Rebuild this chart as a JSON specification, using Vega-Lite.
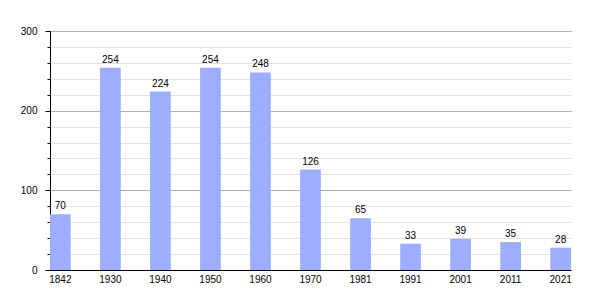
{
  "$schema": "https://vega.github.io/schema/vega-lite/v6.json",
  "autosize": "none",
  "width": 521,
  "height": 239,
  "padding": {"left": 50, "top": 31, "right": 29, "bottom": 30},
  "background": "white",
  "config": {
    "view": {"stroke": null},
    "font": "Liberation Sans",
    "axis": {"labelFont": "Liberation Sans", "labelFontSize": 10, "labelColor": "#000"}
  },
  "data": {
    "values": [
      {"year": "1842", "pop": 70},
      {"year": "1930", "pop": 254},
      {"year": "1940", "pop": 224},
      {"year": "1950", "pop": 254},
      {"year": "1960", "pop": 248},
      {"year": "1970", "pop": 126},
      {"year": "1981", "pop": 65},
      {"year": "1991", "pop": 33},
      {"year": "2001", "pop": 39},
      {"year": "2011", "pop": 35},
      {"year": "2021", "pop": 28}
    ]
  },
  "encoding": {
    "x": {
      "field": "year", "type": "nominal", "sort": null,
      "scale": {"paddingInner": 0.586, "paddingOuter": 0},
      "axis": {"title": null, "labelAngle": 0, "ticks": false, "domainColor": "#000", "labelPadding": 4, "grid": false}
    }
  },
  "layer": [
    {
      "mark": {"type": "bar", "color": "#9daeff"},
      "encoding": {
        "y": {
          "field": "pop", "type": "quantitative",
          "scale": {"domain": [0, 300], "nice": false},
          "axis": {"title": null, "values": [0,20,40,60,80,100,120,140,160,180,200,220,240,260,280,300], "labels": false, "domain": false, "tickSize": 3, "tickColor": "#000", "grid": true, "gridColor": "#e2e2e2", "orient": "left"}
        }
      }
    },
    {
      "mark": {"type": "text", "baseline": "alphabetic", "dy": -5, "fontSize": 10, "color": "#000", "font": "Liberation Sans"},
      "encoding": {
        "y": {
          "field": "pop", "type": "quantitative",
          "scale": {"domain": [0, 300], "nice": false},
          "axis": {"title": null, "values": [0, 100, 200, 300], "domainColor": "#000", "tickSize": 5, "tickColor": "#000", "grid": true, "gridColor": "#b0b0b0", "labelPadding": 8, "orient": "left"}
        },
        "text": {"field": "pop", "type": "quantitative"}
      }
    }
  ],
  "resolve": {"axis": {"y": "independent"}}
}
